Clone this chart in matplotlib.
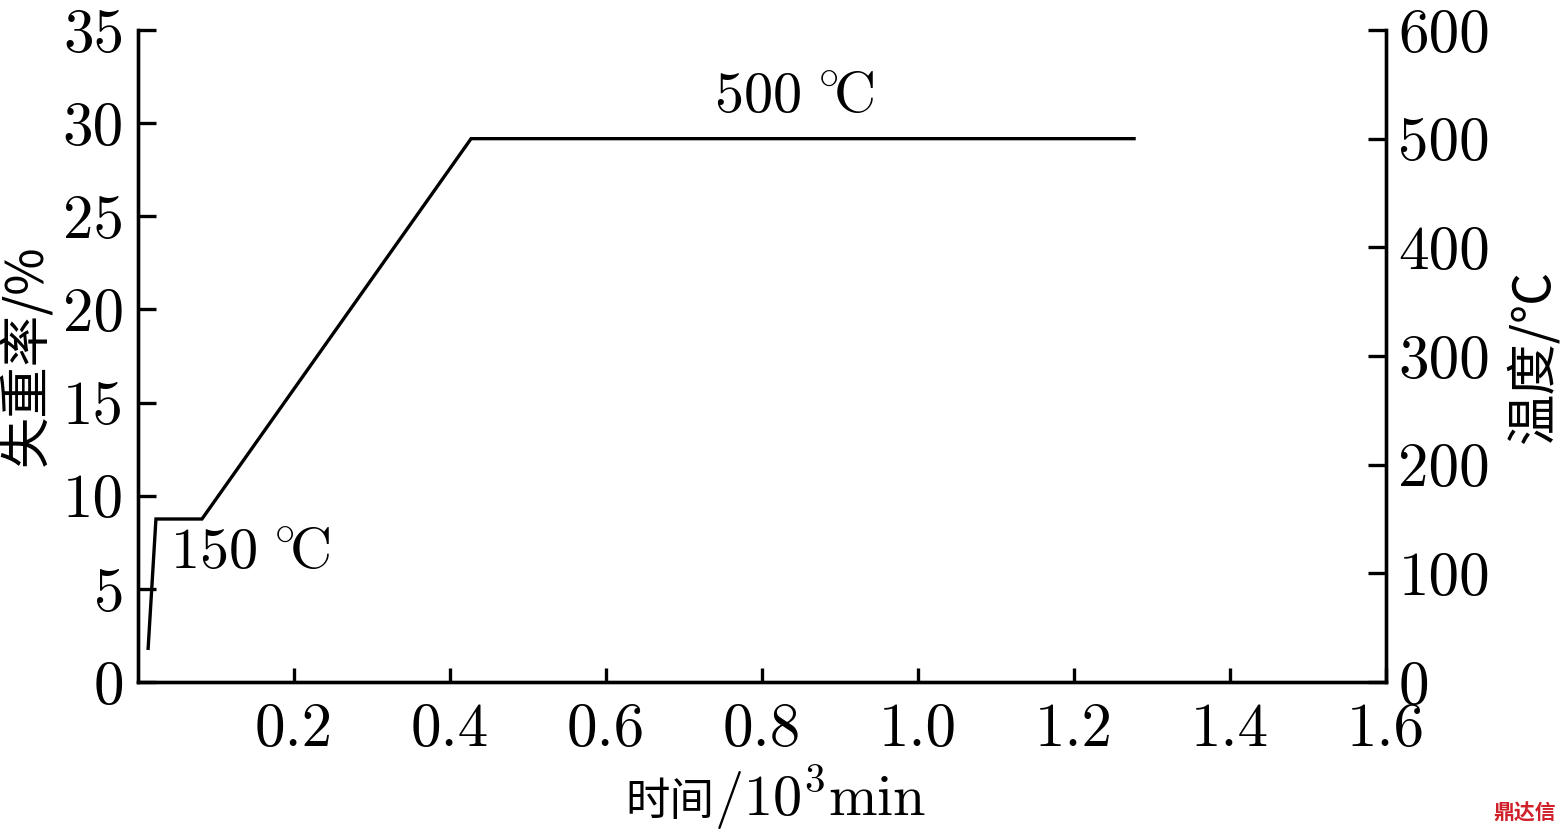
import matplotlib
matplotlib.use('Agg')
import matplotlib.pyplot as plt

plt.rcParams['font.family'] = ['cmr10', 'Liberation Serif', 'DejaVu Serif', 'Noto Sans CJK SC']
plt.rcParams['mathtext.fontset'] = 'cm'
plt.rcParams['axes.formatter.use_mathtext'] = True

# temperature program (time in 10^3 min, temperature in C)
time = [0.013, 0.023, 0.082, 0.427, 1.277]
temp = [31, 150, 150, 500, 500]

xticks = [0.2, 0.4, 0.6, 0.8, 1.0, 1.2, 1.4, 1.6]
left_ticks = [0, 5, 10, 15, 20, 25, 30, 35]
right_ticks = [0, 100, 200, 300, 400, 500, 600]

W, H = 1568, 834
fig = plt.figure(figsize=(W / 100, H / 100), dpi=100)
ax = fig.add_axes([138 / W, 1 - 682 / H, 1248 / W, 652 / H])
ax2 = ax.twinx()

ax2.plot(time, temp, color='black', lw=2.4, solid_joinstyle='miter')

ax.set_xlim(0, 1.6)
ax.set_ylim(0, 35)
ax2.set_ylim(0, 600)

ax.set_xticks(xticks)
ax.set_xticklabels(['%.1f' % v for v in xticks])
ax.set_yticks(left_ticks)
ax.set_yticklabels([str(v) for v in left_ticks])
ax2.set_yticks(right_ticks)
ax2.set_yticklabels([str(v) for v in right_ticks])

for a in (ax, ax2):
    a.spines['top'].set_visible(False)
    for s in a.spines.values():
        s.set_linewidth(2.4)
ax.tick_params(axis='x', direction='in', length=10, width=2.4, labelsize=44, pad=15)
ax.tick_params(axis='y', direction='in', length=13, width=2.4, labelsize=44, pad=10)
ax2.tick_params(axis='y', direction='in', length=13, width=2.4, labelsize=44, pad=9)

# axis labels
cjk = ['Noto Sans CJK SC', 'DejaVu Sans']
fig.text(28 / W, 1 - 355 / H, '失重率/%', fontsize=37, rotation=90,
         ha='center', va='center', family=cjk)
fig.text(1534 / W, 1 - 357 / H, '温度/℃', fontsize=37, rotation=90,
         ha='center', va='center', family=cjk)

yb = 1 - 815 / H
t1 = fig.text(625 / W, yb, '时间', fontsize=32, ha='left', va='baseline', family=cjk)
fig.add_artist(plt.Annotation(r'/$10^3$min', xy=(1.0, yb), xycoords=(t1, 'figure fraction'),
                              ha='left', va='baseline', fontsize=42, annotation_clip=False))

# temperature marks
ax2.text(0.041, 118, r'$150\;{}^{\circ}\!\mathrm{C}$', fontsize=42, ha='left', va='center')
ax2.text(0.842, 537, r'$500\;{}^{\circ}\!\mathrm{C}$', fontsize=42, ha='center', va='center')

fig.text(0.992, 0.012, '鼎达信', color='#d0202a', fontsize=15, ha='right', va='bottom',
         fontweight='bold', family=['Noto Sans CJK SC'])

fig.savefig('out.png', dpi=100)
